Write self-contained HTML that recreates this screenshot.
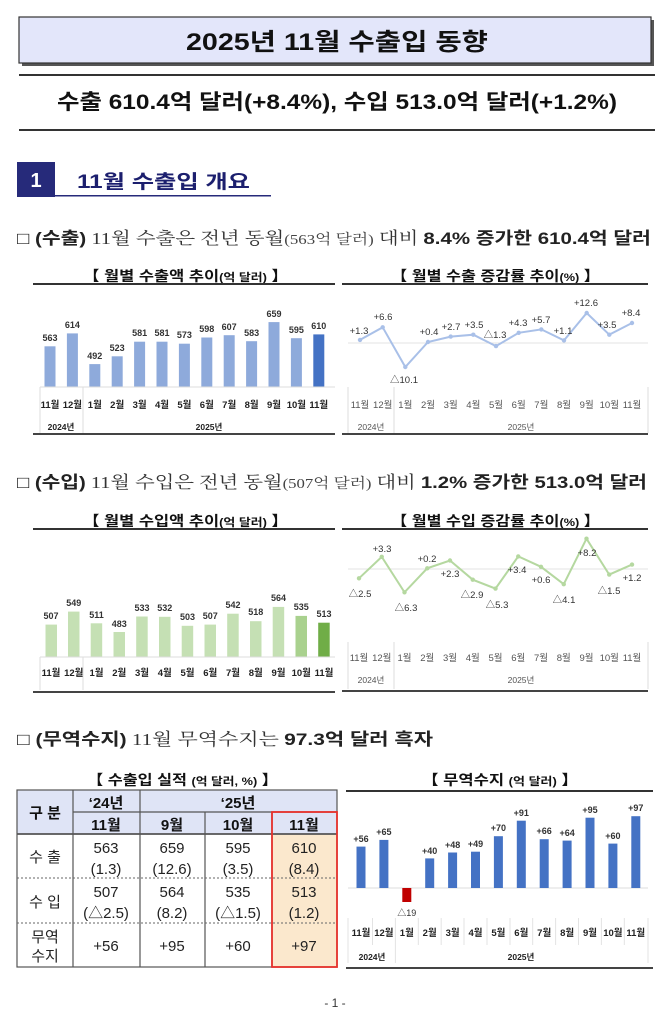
<!DOCTYPE html>
<html><head><meta charset="utf-8">
<style>
html,body{margin:0;padding:0;background:#fff;}
svg{display:block;}
.s{font-family:"Liberation Sans","Noto Sans CJK KR",sans-serif;}
.r{font-family:"Liberation Serif","Noto Serif CJK SC",serif;}
.b{font-weight:bold;}
.ax{font-family:"Liberation Sans","Noto Sans CJK KR",sans-serif;font-size:9.5px;font-weight:bold;fill:#222;text-anchor:middle;}
.axg{font-family:"Liberation Sans","Noto Sans CJK KR",sans-serif;font-size:9.5px;fill:#555;text-anchor:middle;}
.vl{font-family:"Liberation Sans","Noto Sans CJK KR",sans-serif;font-size:9px;font-weight:bold;fill:#333;text-anchor:middle;}
.ll{font-family:"Liberation Sans","Noto Sans CJK KR",sans-serif;font-size:9.5px;fill:#333;text-anchor:middle;}
.td{font-family:"Liberation Sans","Noto Sans CJK KR",sans-serif;font-size:15px;fill:#222;text-anchor:middle;}
.th{font-family:"Liberation Sans","Noto Sans CJK KR",sans-serif;font-size:15px;font-weight:bold;fill:#111;text-anchor:middle;}
</style></head>
<body>
<svg width="671" height="1024" viewBox="0 0 671 1024" xmlns="http://www.w3.org/2000/svg">
<!-- Title box -->
<rect x="22" y="20" width="632" height="46" fill="#555"/>
<rect x="19" y="17" width="632" height="46" fill="#e3e6fa" stroke="#333" stroke-width="1.2"/>
<text x="186" y="50" class="s b" font-size="24" textLength="302" lengthAdjust="spacingAndGlyphs" fill="#111">2025년 11월 수출입 동향</text>
<rect x="19" y="74" width="636" height="2" fill="#333"/>
<text x="57" y="109" class="s b" font-size="21" textLength="560" lengthAdjust="spacingAndGlyphs" fill="#111">수출 610.4억 달러(+8.4%), 수입 513.0억 달러(+1.2%)</text>
<rect x="19" y="129" width="636" height="2" fill="#333"/>
<!-- Section -->
<rect x="17" y="162" width="38" height="35" fill="#262a7a"/>
<text x="36" y="187" class="s b" font-size="20" fill="#fff" text-anchor="middle">1</text>
<text x="77" y="188" class="s b" font-size="19" fill="#1c1f6e" textLength="173" lengthAdjust="spacingAndGlyphs">11월 수출입 개요</text>
<rect x="55" y="195" width="216" height="1.5" fill="#262a7a"/>
<!-- export line -->
<text x="17" y="244" font-size="17" fill="#222" textLength="634" lengthAdjust="spacingAndGlyphs" class="s"><tspan>□ </tspan><tspan class="b">(수출)</tspan><tspan class="r" fill="#333"> 11월 수출은 전년 동월</tspan><tspan class="r" font-size="14" fill="#444">(563억 달러)</tspan><tspan class="r" fill="#333"> 대비 </tspan><tspan class="b">8.4% 증가한 610.4억 달러</tspan></text>

<!-- Chart titles row 1 -->
<text x="83" y="281" class="s b" font-size="14" fill="#111" textLength="205" lengthAdjust="spacingAndGlyphs">【 월별 수출액 추이<tspan font-size="11">(억 달러)</tspan> 】</text>
<rect x="33" y="283" width="302" height="2" fill="#333"/>
<text x="391" y="281" class="s b" font-size="14" fill="#111" textLength="209" lengthAdjust="spacingAndGlyphs">【 월별 수출 증감률 추이<tspan font-size="11">(%)</tspan> 】</text>
<rect x="342" y="283" width="306" height="2" fill="#333"/>

<!-- Export bars -->
<g fill="#8eaadb">
<rect x="44.5" y="346.3" width="11" height="40.7"/>
<rect x="66.9" y="333.4" width="11" height="53.6"/>
<rect x="89.3" y="364.1" width="11" height="22.9"/>
<rect x="111.7" y="356.3" width="11" height="30.7"/>
<rect x="134.1" y="341.7" width="11" height="45.3"/>
<rect x="156.5" y="341.7" width="11" height="45.3"/>
<rect x="178.9" y="343.7" width="11" height="43.3"/>
<rect x="201.3" y="337.5" width="11" height="49.5"/>
<rect x="223.7" y="335.2" width="11" height="51.8"/>
<rect x="246.1" y="341.2" width="11" height="45.8"/>
<rect x="268.5" y="322.1" width="11" height="64.9"/>
<rect x="290.9" y="338.2" width="11" height="48.8"/>
</g>
<rect x="313.3" y="334.4" width="11" height="52.6" fill="#4472c4"/>
<g class="vl">
<text x="50" y="341">563</text><text x="72.4" y="328">614</text><text x="94.8" y="359">492</text><text x="117.2" y="351">523</text><text x="139.6" y="336">581</text><text x="162" y="336">581</text><text x="184.4" y="338">573</text><text x="206.8" y="332">598</text><text x="229.2" y="330">607</text><text x="251.6" y="336">583</text><text x="274" y="317">659</text><text x="296.4" y="333">595</text><text x="318.8" y="329">610</text>
</g>
<g stroke="#ddd" stroke-width="1" fill="none">
<line x1="40" y1="387" x2="335" y2="387"/><line x1="40" y1="387" x2="40" y2="433"/><line x1="83" y1="387" x2="83" y2="433"/>
</g>
<g class="ax">
<text x="50" y="408">11월</text><text x="72.4" y="408">12월</text><text x="94.8" y="408">1월</text><text x="117.2" y="408">2월</text><text x="139.6" y="408">3월</text><text x="162" y="408">4월</text><text x="184.4" y="408">5월</text><text x="206.8" y="408">6월</text><text x="229.2" y="408">7월</text><text x="251.6" y="408">8월</text><text x="274" y="408">9월</text><text x="296.4" y="408">10월</text><text x="318.8" y="408">11월</text>
<text x="61" y="430" font-size="8.5">2024년</text><text x="209" y="430" font-size="8.5">2025년</text>
</g>
<rect x="33" y="433" width="302" height="2" fill="#444"/>

<!-- Export line chart -->
<line x1="348" y1="343" x2="648" y2="343" stroke="#e3e3e3"/>
<polyline fill="none" stroke="#a9c0e8" stroke-width="2" points="360,339.9 382.7,327.3 405.3,367 428,342 450.7,336.6 473.3,334.7 496,346.1 518.7,332.8 541.3,329.4 564,340.4 586.7,313 609.3,334.7 632,323"/>
<g fill="#a9c0e8">
<circle cx="360" cy="339.9" r="2.2"/><circle cx="382.7" cy="327.3" r="2.2"/><circle cx="405.3" cy="367" r="2.2"/><circle cx="428" cy="342" r="2.2"/><circle cx="450.7" cy="336.6" r="2.2"/><circle cx="473.3" cy="334.7" r="2.2"/><circle cx="496" cy="346.1" r="2.2"/><circle cx="518.7" cy="332.8" r="2.2"/><circle cx="541.3" cy="329.4" r="2.2"/><circle cx="564" cy="340.4" r="2.2"/><circle cx="586.7" cy="313" r="2.2"/><circle cx="609.3" cy="334.7" r="2.2"/><circle cx="632" cy="323" r="2.2"/>
</g>
<g class="ll">
<text x="359" y="334">+1.3</text><text x="383" y="320">+6.6</text><text x="404" y="383">△10.1</text><text x="429" y="335">+0.4</text><text x="451" y="330">+2.7</text><text x="474" y="328">+3.5</text><text x="495" y="338">△1.3</text><text x="518" y="326">+4.3</text><text x="541" y="323">+5.7</text><text x="563" y="334">+1.1</text><text x="586" y="306">+12.6</text><text x="607" y="328">+3.5</text><text x="631" y="316">+8.4</text>
</g>
<g stroke="#ddd" stroke-width="1"><line x1="348" y1="387" x2="348" y2="433"/><line x1="394" y1="387" x2="394" y2="433"/><line x1="648" y1="387" x2="648" y2="433"/></g>
<g class="axg">
<text x="360" y="408">11월</text><text x="382.7" y="408">12월</text><text x="405.3" y="408">1월</text><text x="428" y="408">2월</text><text x="450.7" y="408">3월</text><text x="473.3" y="408">4월</text><text x="496" y="408">5월</text><text x="518.7" y="408">6월</text><text x="541.3" y="408">7월</text><text x="564" y="408">8월</text><text x="586.7" y="408">9월</text><text x="609.3" y="408">10월</text><text x="632" y="408">11월</text>
<text x="371" y="430" font-size="8.5">2024년</text><text x="521" y="430" font-size="8.5">2025년</text>
</g>
<rect x="342" y="433" width="306" height="2" fill="#444"/>

<!-- import line -->
<text x="17" y="488" font-size="17" fill="#222" textLength="630" lengthAdjust="spacingAndGlyphs" class="s"><tspan>□ </tspan><tspan class="b">(수입)</tspan><tspan class="r" fill="#333"> 11월 수입은 전년 동월</tspan><tspan class="r" font-size="14" fill="#444">(507억 달러)</tspan><tspan class="r" fill="#333"> 대비 </tspan><tspan class="b">1.2% 증가한 513.0억 달러</tspan></text>

<text x="83" y="526" class="s b" font-size="14" fill="#111" textLength="205" lengthAdjust="spacingAndGlyphs">【 월별 수입액 추이<tspan font-size="11">(억 달러)</tspan> 】</text>
<rect x="33" y="528" width="302" height="2" fill="#333"/>
<text x="391" y="526" class="s b" font-size="14" fill="#111" textLength="209" lengthAdjust="spacingAndGlyphs">【 월별 수입 증감률 추이<tspan font-size="11">(%)</tspan> 】</text>
<rect x="342" y="528" width="306" height="2" fill="#333"/>

<!-- Import bars -->
<g fill="#c5e0b4">
<rect x="45.5" y="624.6" width="11.5" height="32.4"/>
<rect x="68" y="611.6" width="11.5" height="45.4"/>
<rect x="90.7" y="623.3" width="11.5" height="33.7"/>
<rect x="113.5" y="632" width="11.5" height="25"/>
<rect x="136.2" y="616.5" width="11.5" height="40.5"/>
<rect x="159" y="616.8" width="11.5" height="40.2"/>
<rect x="181.7" y="625.8" width="11.5" height="31.2"/>
<rect x="204.5" y="624.6" width="11.5" height="32.4"/>
<rect x="227.2" y="613.7" width="11.5" height="43.3"/>
<rect x="250" y="621.2" width="11.5" height="35.8"/>
<rect x="272.7" y="606.9" width="11.5" height="50.1"/>
</g>
<rect x="295.5" y="615.9" width="11.5" height="41.1" fill="#a9d18e"/>
<rect x="318.2" y="622.7" width="11.5" height="34.3" fill="#70ad47"/>
<g class="vl" font-size="8.5">
<text x="51" y="619">507</text><text x="73.75" y="606">549</text><text x="96.5" y="618">511</text><text x="119.25" y="627">483</text><text x="142" y="611">533</text><text x="164.75" y="611">532</text><text x="187.5" y="620">503</text><text x="210.25" y="619">507</text><text x="233" y="608">542</text><text x="255.75" y="615">518</text><text x="278.5" y="601">564</text><text x="301.25" y="610">535</text><text x="324" y="617">513</text>
</g>
<g stroke="#ddd" stroke-width="1" fill="none">
<line x1="40" y1="657" x2="335" y2="657"/><line x1="40" y1="657" x2="40" y2="690"/><line x1="83" y1="657" x2="83" y2="690"/>
</g>
<g class="ax" font-size="9">
<text x="51" y="676">11월</text><text x="73.75" y="676">12월</text><text x="96.5" y="676">1월</text><text x="119.25" y="676">2월</text><text x="142" y="676">3월</text><text x="164.75" y="676">4월</text><text x="187.5" y="676">5월</text><text x="210.25" y="676">6월</text><text x="233" y="676">7월</text><text x="255.75" y="676">8월</text><text x="278.5" y="676">9월</text><text x="301.25" y="676">10월</text><text x="324" y="676">11월</text>
</g>
<rect x="33" y="691" width="302" height="2" fill="#444"/>

<!-- Import line chart -->
<line x1="348" y1="569" x2="648" y2="569" stroke="#e3e3e3"/>
<polyline fill="none" stroke="#b5d8a0" stroke-width="2" points="359,578.3 381.75,556.8 404.5,592.3 427.25,568.3 450,560.5 472.75,579.7 495.5,588.6 518.25,556.4 541,566.8 563.75,584.2 586.5,538.7 609.25,574.6 632,564.6"/>
<g fill="#b5d8a0">
<circle cx="359" cy="578.3" r="2.2"/><circle cx="381.75" cy="556.8" r="2.2"/><circle cx="404.5" cy="592.3" r="2.2"/><circle cx="427.25" cy="568.3" r="2.2"/><circle cx="450" cy="560.5" r="2.2"/><circle cx="472.75" cy="579.7" r="2.2"/><circle cx="495.5" cy="588.6" r="2.2"/><circle cx="518.25" cy="556.4" r="2.2"/><circle cx="541" cy="566.8" r="2.2"/><circle cx="563.75" cy="584.2" r="2.2"/><circle cx="586.5" cy="538.7" r="2.2"/><circle cx="609.25" cy="574.6" r="2.2"/><circle cx="632" cy="564.6" r="2.2"/>
</g>
<g class="ll" font-size="9">
<text x="360" y="597">△2.5</text><text x="382" y="552">+3.3</text><text x="406" y="611">△6.3</text><text x="427" y="562">+0.2</text><text x="450" y="577">+2.3</text><text x="472" y="598">△2.9</text><text x="497" y="608">△5.3</text><text x="517" y="573">+3.4</text><text x="541" y="583">+0.6</text><text x="564" y="603">△4.1</text><text x="587" y="556">+8.2</text><text x="609" y="594">△1.5</text><text x="632" y="581">+1.2</text>
</g>
<g stroke="#ddd" stroke-width="1"><line x1="348" y1="642" x2="348" y2="689"/><line x1="394" y1="642" x2="394" y2="689"/><line x1="648" y1="642" x2="648" y2="689"/></g>
<g class="axg">
<text x="359" y="661">11월</text><text x="381.75" y="661">12월</text><text x="404.5" y="661">1월</text><text x="427.25" y="661">2월</text><text x="450" y="661">3월</text><text x="472.75" y="661">4월</text><text x="495.5" y="661">5월</text><text x="518.25" y="661">6월</text><text x="541" y="661">7월</text><text x="563.75" y="661">8월</text><text x="586.5" y="661">9월</text><text x="609.25" y="661">10월</text><text x="632" y="661">11월</text>
<text x="371" y="683" font-size="8.5">2024년</text><text x="521" y="683" font-size="8.5">2025년</text>
</g>
<rect x="342" y="690" width="306" height="2" fill="#444"/>

<!-- Trade balance line -->
<text x="17" y="745" font-size="17" fill="#222" textLength="416" lengthAdjust="spacingAndGlyphs" class="s"><tspan>□ </tspan><tspan class="b">(무역수지)</tspan><tspan class="r" fill="#333"> 11월 무역수지는 </tspan><tspan class="b">97.3억 달러 흑자</tspan></text>

<!-- Table -->
<text x="87" y="785" class="s b" font-size="14" fill="#111" textLength="191" lengthAdjust="spacingAndGlyphs">【 수출입 실적 <tspan font-size="11">(억 달러, %)</tspan> 】</text>
<rect x="17" y="790" width="320" height="44" fill="#dfe4f6"/>
<rect x="272" y="834" width="65" height="133" fill="#fbe8cd"/>
<g stroke="#555" stroke-width="1.2" fill="none">
<rect x="17" y="790" width="320" height="177"/>
<line x1="73" y1="790" x2="73" y2="967"/>
<line x1="140" y1="790" x2="140" y2="967"/>
<line x1="205" y1="812" x2="205" y2="967"/>
<line x1="272" y1="812" x2="272" y2="967"/>
<line x1="73" y1="812" x2="337" y2="812"/>
<line x1="17" y1="834" x2="337" y2="834" stroke-width="1.8"/>
</g>
<g stroke="#666" stroke-width="1" stroke-dasharray="2,2"><line x1="17" y1="878" x2="337" y2="878"/><line x1="17" y1="923" x2="337" y2="923"/></g>
<rect x="272" y="812" width="65" height="155" fill="none" stroke="#e8322d" stroke-width="1.8"/>
<text x="45" y="818" class="th" font-size="16">구 분</text>
<text x="106" y="808" class="th">‘24년</text><text x="238" y="808" class="th">‘25년</text>
<text x="106" y="830" class="th">11월</text><text x="172" y="830" class="th">9월</text><text x="238" y="830" class="th">10월</text><text x="304" y="830" class="th">11월</text>
<text x="45" y="862" class="td" font-size="16">수 출</text>
<text x="45" y="907" class="td" font-size="16">수 입</text>
<text x="45" y="942" class="td" font-size="15">무역</text><text x="45" y="961" class="td" font-size="15">수지</text>
<g class="td">
<text x="106" y="853">563</text><text x="172" y="853">659</text><text x="238" y="853">595</text><text x="304" y="853">610</text>
<text x="106" y="874">(1.3)</text><text x="172" y="874">(12.6)</text><text x="238" y="874">(3.5)</text><text x="304" y="874">(8.4)</text>
<text x="106" y="897">507</text><text x="172" y="897">564</text><text x="238" y="897">535</text><text x="304" y="897">513</text>
<text x="106" y="918">(△2.5)</text><text x="172" y="918">(8.2)</text><text x="238" y="918">(△1.5)</text><text x="304" y="918">(1.2)</text>
<text x="106" y="951">+56</text><text x="172" y="951">+95</text><text x="238" y="951">+60</text><text x="304" y="951">+97</text>
</g>

<!-- Trade balance chart -->
<text x="422" y="785" class="s b" font-size="14" fill="#111" textLength="156" lengthAdjust="spacingAndGlyphs">【 무역수지 <tspan font-size="11">(억 달러)</tspan> 】</text>
<rect x="346" y="790" width="307" height="2" fill="#333"/>
<line x1="348" y1="888" x2="648" y2="888" stroke="#ddd"/>
<g fill="#4472c4">
<rect x="356.5" y="846.6" width="9" height="41.4"/>
<rect x="379.4" y="839.9" width="9" height="48.1"/>
<rect x="425.2" y="858.4" width="9" height="29.6"/>
<rect x="448.1" y="852.5" width="9" height="35.5"/>
<rect x="471" y="851.7" width="9" height="36.3"/>
<rect x="493.9" y="836.2" width="9" height="51.8"/>
<rect x="516.8" y="820.7" width="9" height="67.3"/>
<rect x="539.7" y="839.2" width="9" height="48.8"/>
<rect x="562.6" y="840.6" width="9" height="47.4"/>
<rect x="585.5" y="817.7" width="9" height="70.3"/>
<rect x="608.4" y="843.6" width="9" height="44.4"/>
<rect x="631.3" y="816.2" width="9" height="71.8"/>
</g>
<rect x="402.3" y="888" width="9" height="14" fill="#c00000"/>
<g class="vl">
<text x="361" y="842">+56</text><text x="383.9" y="835">+65</text><text x="406.8" y="916" font-weight="normal">△19</text><text x="429.7" y="854">+40</text><text x="452.6" y="848">+48</text><text x="475.5" y="847">+49</text><text x="498.4" y="831">+70</text><text x="521.3" y="816">+91</text><text x="544.2" y="834">+66</text><text x="567.1" y="836">+64</text><text x="590" y="813">+95</text><text x="612.9" y="839">+60</text><text x="635.8" y="811">+97</text>
</g>
<g stroke="#e3e3e3" stroke-width="1">
<line x1="348" y1="918" x2="348" y2="963"/><line x1="372.5" y1="918" x2="372.5" y2="945"/><line x1="395.4" y1="918" x2="395.4" y2="963"/><line x1="418.3" y1="918" x2="418.3" y2="945"/><line x1="441.2" y1="918" x2="441.2" y2="945"/><line x1="464" y1="918" x2="464" y2="945"/><line x1="487" y1="918" x2="487" y2="945"/><line x1="510" y1="918" x2="510" y2="945"/><line x1="532.7" y1="918" x2="532.7" y2="945"/><line x1="555.6" y1="918" x2="555.6" y2="945"/><line x1="578.5" y1="918" x2="578.5" y2="945"/><line x1="601.4" y1="918" x2="601.4" y2="945"/><line x1="624.3" y1="918" x2="624.3" y2="945"/><line x1="648" y1="918" x2="648" y2="963"/>
</g>
<g class="ax">
<text x="361" y="936">11월</text><text x="383.9" y="936">12월</text><text x="406.8" y="936">1월</text><text x="429.7" y="936">2월</text><text x="452.6" y="936">3월</text><text x="475.5" y="936">4월</text><text x="498.4" y="936">5월</text><text x="521.3" y="936">6월</text><text x="544.2" y="936">7월</text><text x="567.1" y="936">8월</text><text x="590" y="936">9월</text><text x="612.9" y="936">10월</text><text x="635.8" y="936">11월</text>
<text x="372" y="960" font-size="8.5">2024년</text><text x="521" y="960" font-size="8.5">2025년</text>
</g>
<rect x="346" y="967" width="307" height="2" fill="#444"/>

<text x="335" y="1007" class="s" font-size="12" fill="#333" text-anchor="middle">- 1 -</text>
</svg>
</body></html>
